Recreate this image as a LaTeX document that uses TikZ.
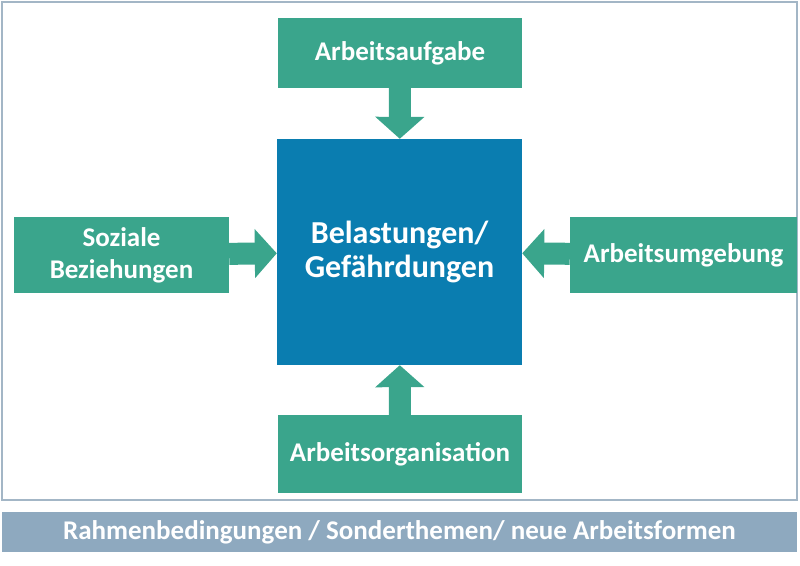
\documentclass[tikz,border=0pt]{standalone}
\usepackage{fontspec}
\setmainfont{Carlito}
\usetikzlibrary{arrows.meta}
\definecolor{teal1}{HTML}{3AA58C}
\definecolor{blue1}{HTML}{0A7DB0}
\definecolor{bar1}{HTML}{8EA9BF}
\definecolor{frame1}{HTML}{A3B6C6}
\tikzset{
  factor/.style={fill=teal1, text=white, font=\fontsize{27}{32}\selectfont\bfseries, align=center, inner sep=0pt},
  flow/.style={teal1, line width=22pt, -{Triangle[width=48pt,length=22pt]}}
}
\begin{document}
\begin{tikzpicture}[x=1pt,y=-1pt]
\useasboundingbox (0,0) rectangle (800,565);
\draw[frame1, line width=1.5pt] (2,2) rectangle (797,500);
\node[fill=bar1, text=white, font=\fontsize{27}{32}\selectfont\bfseries, minimum width=795pt, minimum height=40pt, inner sep=0pt] (bar) at (399.5,532) {Rahmenbedingungen / Sonderthemen/ neue Arbeitsformen};
\node[fill=blue1, text=white, font=\fontsize{32}{34}\selectfont\bfseries, align=center, minimum width=245pt, minimum height=226pt, inner sep=0pt] (load) at (399.5,252) {Belastungen/\\Gefährdungen};
\node[factor, minimum width=244pt, minimum height=70pt] (task) at (400,53) {Arbeitsaufgabe};
\node[factor, minimum width=244pt, minimum height=78pt] (org) at (400,454) {Arbeitsorganisation};
\node[factor, minimum width=215pt, minimum height=76pt] (social) at (121.5,255) {Soziale\\Beziehungen};
\node[factor, minimum width=227pt, minimum height=76pt] (env) at (683.5,255) {Arbeitsumgebung};
\draw[flow] (task) -- (load);
\draw[flow] (org) -- (load);
\draw[flow] (social) -- (load);
\draw[flow] (env) -- (load);
\end{tikzpicture}
\end{document}
